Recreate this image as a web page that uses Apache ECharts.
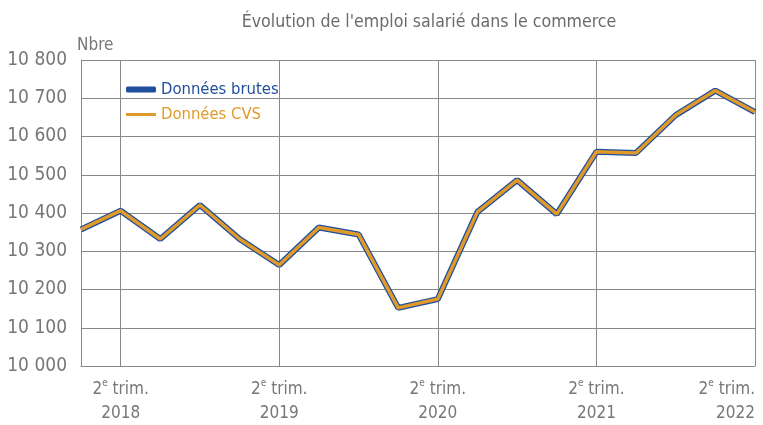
<!DOCTYPE html>
<html><head><meta charset="utf-8">
<script src="https://cdn.jsdelivr.net/npm/echarts@6/dist/echarts.min.js"></script>
<style>html,body{margin:0;padding:0;background:#fff}#c{width:763px;height:425px}</style>
</head><body><div id="c"></div>
<script>
const categories = ['T1 2018','T2 2018','T3 2018','T4 2018','T1 2019','T2 2019','T3 2019','T4 2019','T1 2020','T2 2020','T3 2020','T4 2020','T1 2021','T2 2021','T3 2021','T4 2021','T1 2022','T2 2022'];
const yearLabels = ['2018','2018','2018','2018','2019','2019','2019','2019','2020','2020','2020','2020','2021','2021','2021','2021','2022','2022'];
const brutes = [10357,10406,10332,10421,10332,10264,10362,10344,10152,10175,10403,10486,10397,10560,10557,10656,10720,10664];
const cvs = [10357,10406,10332,10421,10332,10264,10362,10344,10152,10175,10403,10486,10397,10560,10557,10656,10720,10664];
const yTicks = {min:10000, max:10800, interval:100};

const FONT = '"DejaVu Sans Condensed","Roboto",sans-serif';
const chart = echarts.init(document.getElementById('c'));
chart.setOption({
  animation:false,
  title:{text:"Évolution de l'emploi salarié dans le commerce", left:424, top:8, textAlign:'center',
    textStyle:{fontFamily:FONT,fontSize:17.6,fontWeight:'normal',color:'#6b6b6b'}},
  legend:[
    {left:121, top:76, itemWidth:30, itemHeight:6, itemGap:6,
      textStyle:{fontFamily:FONT,fontSize:16.5,color:'#1f4e9c'},
      data:[{name:'Données brutes',icon:'roundRect',itemStyle:{color:'#1f4e9c'}}]},
    {left:121, top:101, itemWidth:30, itemHeight:3, itemGap:6,
      textStyle:{fontFamily:FONT,fontSize:16.5,color:'#e09a2a'},
      data:[{name:'Données CVS',icon:'rect',itemStyle:{color:'#e09a2a'}}]}
  ],
  grid:{left:81,right:8,top:60,bottom:59,containLabel:false},
  xAxis:{type:'category',data:categories,boundaryGap:false,
    axisLine:{lineStyle:{color:'#888',width:1}},axisTick:{show:false},
    splitLine:{show:true,interval:(i)=>(i-1)%4===0,lineStyle:{color:'#888',width:1}},
    axisLabel:{interval:(i)=>(i-1)%4===0, margin:12, alignMaxLabel:'right',
      formatter:(v,i)=>'{n|2}{s|e}{n| trim.}\n{n|'+yearLabels[i]+'}',
      rich:{n:{fontFamily:FONT,fontSize:17,color:'#777',lineHeight:24},s:{fontFamily:FONT,fontSize:10,color:'#777',verticalAlign:'top',lineHeight:24,padding:[0,0,6,0]}}}},
  yAxis:{type:'value',min:yTicks.min,max:yTicks.max,interval:yTicks.interval,
    name:'Nbre',nameLocation:'end',nameGap:6,nameTextStyle:{fontFamily:FONT,fontSize:17,color:'#777',align:'left',padding:[0,0,0,-4]},
    axisLine:{show:true,lineStyle:{color:'#888'}},axisTick:{show:false},
    splitLine:{lineStyle:{color:'#888',width:1}},
    axisLabel:{margin:14,fontFamily:FONT,fontSize:19,color:'#777',
      formatter:(v)=>String(v).replace(/\B(?=(\d{3})+(?!\d))/g,' ')}},
  series:[
    {name:'Données brutes',type:'line',data:brutes,symbol:'none',lineStyle:{color:'#1f4e9c',width:6},itemStyle:{color:'#1f4e9c'},z:2},
    {name:'Données CVS',type:'line',data:cvs,symbol:'none',lineStyle:{color:'#e09a2a',width:3.5},itemStyle:{color:'#e09a2a'},z:3}
  ]
});
</script></body></html>
